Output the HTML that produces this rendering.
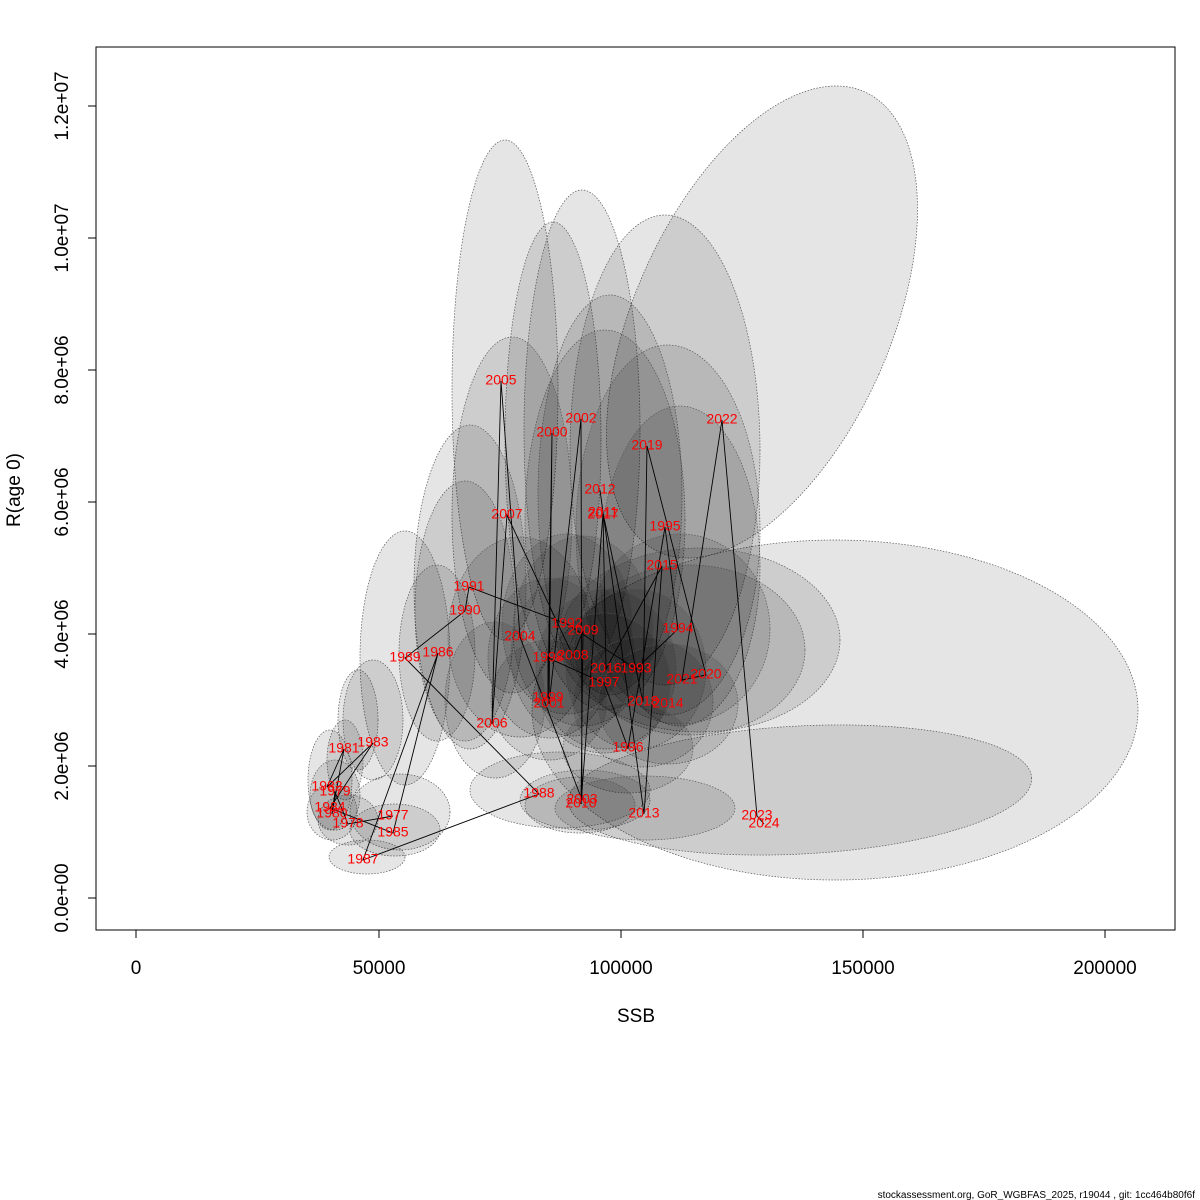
<!DOCTYPE html>
<html><head><meta charset="utf-8"><style>body{margin:0;background:#fff}svg{display:block}text{font-family:"Liberation Sans",sans-serif}</style></head><body>
<svg width="1200" height="1200" viewBox="0 0 1200 1200" xmlns="http://www.w3.org/2000/svg">
<rect width="1200" height="1200" fill="#fff"/>
<g fill="rgba(0,0,0,0.1)" stroke="#555" stroke-width="0.7" stroke-dasharray="1.5,1.5">
<ellipse cx="835" cy="710" rx="303" ry="170"/>
<ellipse cx="800" cy="790" rx="232" ry="64" transform="rotate(-3 800 790)"/>
<ellipse cx="762" cy="322" rx="128" ry="252" transform="rotate(24 762 322)"/>
<ellipse cx="505" cy="390" rx="53" ry="250"/>
<ellipse cx="582" cy="430" rx="58" ry="240"/>
<ellipse cx="553" cy="440" rx="48" ry="218"/>
<ellipse cx="665" cy="450" rx="95" ry="235"/>
<ellipse cx="610" cy="495" rx="72" ry="200"/>
<ellipse cx="605" cy="520" rx="80" ry="190"/>
<ellipse cx="668" cy="530" rx="92" ry="185"/>
<ellipse cx="680" cy="566" rx="80" ry="160"/>
<ellipse cx="512" cy="515" rx="60" ry="178"/>
<ellipse cx="470" cy="587" rx="56" ry="162"/>
<ellipse cx="465" cy="611" rx="50" ry="130"/>
<ellipse cx="405" cy="658" rx="45" ry="127"/>
<ellipse cx="437" cy="653" rx="38" ry="88"/>
<ellipse cx="700" cy="640" rx="140" ry="92"/>
<ellipse cx="690" cy="650" rx="115" ry="85"/>
<ellipse cx="680" cy="629" rx="90" ry="95"/>
<ellipse cx="520" cy="637" rx="72" ry="100"/>
<ellipse cx="567" cy="624" rx="65" ry="90"/>
<ellipse cx="583" cy="631" rx="70" ry="95"/>
<ellipse cx="550" cy="658" rx="62" ry="80"/>
<ellipse cx="573" cy="656" rx="62" ry="80"/>
<ellipse cx="606" cy="669" rx="70" ry="80"/>
<ellipse cx="636" cy="669" rx="70" ry="80"/>
<ellipse cx="604" cy="683" rx="66" ry="70"/>
<ellipse cx="549" cy="700" rx="58" ry="60"/>
<ellipse cx="643" cy="702" rx="70" ry="65"/>
<ellipse cx="668" cy="704" rx="70" ry="60"/>
<ellipse cx="628" cy="748" rx="65" ry="45"/>
<ellipse cx="495" cy="700" rx="50" ry="78"/>
<ellipse cx="560" cy="790" rx="90" ry="38"/>
<ellipse cx="585" cy="800" rx="65" ry="30"/>
<ellipse cx="580" cy="805" rx="55" ry="28"/>
<ellipse cx="645" cy="808" rx="90" ry="32"/>
<ellipse cx="400" cy="812" rx="50" ry="38"/>
<ellipse cx="395" cy="830" rx="45" ry="26"/>
<ellipse cx="367" cy="857" rx="38" ry="17"/>
<ellipse cx="358" cy="720" rx="20" ry="50"/>
<ellipse cx="373" cy="720" rx="30" ry="60"/>
<ellipse cx="345" cy="760" rx="18" ry="40"/>
<ellipse cx="330" cy="780" rx="22" ry="50"/>
<ellipse cx="335" cy="795" rx="25" ry="35"/>
<ellipse cx="332" cy="812" rx="25" ry="28"/>
<ellipse cx="348" cy="820" rx="30" ry="25"/>
</g>
<polyline fill="none" stroke="#000" stroke-width="0.9" points="393,816 348,824 335,792 332,814 344,749 327,787 373,743 330,808 393,833 438,653 363,860 539,794 405,658 465,611 469,587 567,624 636,669 678,629 665,527 628,748 604,683 548,658 548,698 552,433 549,704 581,419 582,800 520,637 501,381 492,724 507,515 573,656 583,631 581,804 603,513 600,490 644,814 662,566 606,669 603,513 643,702 647,446 706,675 682,680 722,420 757,816 764,824"/>
<g fill="#f00" font-size="14" text-anchor="middle" dominant-baseline="middle">
<text x="393" y="816">1977</text><text x="348" y="824">1978</text><text x="335" y="792">1979</text><text x="332" y="814">1980</text><text x="344" y="749">1981</text><text x="327" y="787">1982</text><text x="373" y="743">1983</text><text x="330" y="808">1984</text><text x="393" y="833">1985</text><text x="438" y="653">1986</text><text x="363" y="860">1987</text><text x="539" y="794">1988</text><text x="405" y="658">1989</text><text x="465" y="611">1990</text><text x="469" y="587">1991</text><text x="567" y="624">1992</text><text x="636" y="669">1993</text><text x="678" y="629">1994</text><text x="665" y="527">1995</text><text x="628" y="748">1996</text><text x="604" y="683">1997</text><text x="548" y="658">1998</text><text x="548" y="698">1999</text><text x="552" y="433">2000</text><text x="549" y="704">2001</text><text x="581" y="419">2002</text><text x="582" y="800">2003</text><text x="520" y="637">2004</text><text x="501" y="381">2005</text><text x="492" y="724">2006</text><text x="507" y="515">2007</text><text x="573" y="656">2008</text><text x="583" y="631">2009</text><text x="581" y="804">2010</text><text x="603" y="513">2011</text><text x="600" y="490">2012</text><text x="644" y="814">2013</text><text x="668" y="704">2014</text><text x="662" y="566">2015</text><text x="606" y="669">2016</text><text x="603" y="515">2017</text><text x="643" y="702">2018</text><text x="647" y="446">2019</text><text x="706" y="675">2020</text><text x="682" y="680">2021</text><text x="722" y="420">2022</text><text x="757" y="816">2023</text><text x="764" y="824">2024</text>
</g>
<rect x="96" y="47" width="1079" height="883" fill="none" stroke="#000" stroke-width="1"/>
<g stroke="#000" stroke-width="1">
<line x1="136" y1="930" x2="1105" y2="930"/>
<line x1="136" y1="930" x2="136" y2="938"/><line x1="379" y1="930" x2="379" y2="938"/><line x1="621" y1="930" x2="621" y2="938"/><line x1="863" y1="930" x2="863" y2="938"/><line x1="1105" y1="930" x2="1105" y2="938"/>
<line x1="96" y1="898" x2="96" y2="106"/>
<line x1="88" y1="898" x2="96" y2="898"/><line x1="88" y1="766" x2="96" y2="766"/><line x1="88" y1="634" x2="96" y2="634"/><line x1="88" y1="502" x2="96" y2="502"/><line x1="88" y1="370" x2="96" y2="370"/><line x1="88" y1="238" x2="96" y2="238"/><line x1="88" y1="106" x2="96" y2="106"/>
</g>
<g font-size="19" text-anchor="middle" fill="#000">
<text x="136" y="974">0</text><text x="379" y="974">50000</text><text x="621" y="974">100000</text><text x="863" y="974">150000</text><text x="1105" y="974">200000</text>
<text x="636" y="1022">SSB</text>
<text transform="translate(68 898) rotate(-90)">0.0e+00</text>
<text transform="translate(68 766) rotate(-90)">2.0e+06</text>
<text transform="translate(68 634) rotate(-90)">4.0e+06</text>
<text transform="translate(68 502) rotate(-90)">6.0e+06</text>
<text transform="translate(68 370) rotate(-90)">8.0e+06</text>
<text transform="translate(68 238) rotate(-90)">1.0e+07</text>
<text transform="translate(68 106) rotate(-90)">1.2e+07</text>
<text transform="translate(20 490) rotate(-90)">R(age 0)</text>
</g>
<text x="1195" y="1198" font-size="10" text-anchor="end" fill="#000">stockassessment.org, GoR_WGBFAS_2025, r19044 , git: 1cc464b80f6f</text>
</svg>
</body></html>
